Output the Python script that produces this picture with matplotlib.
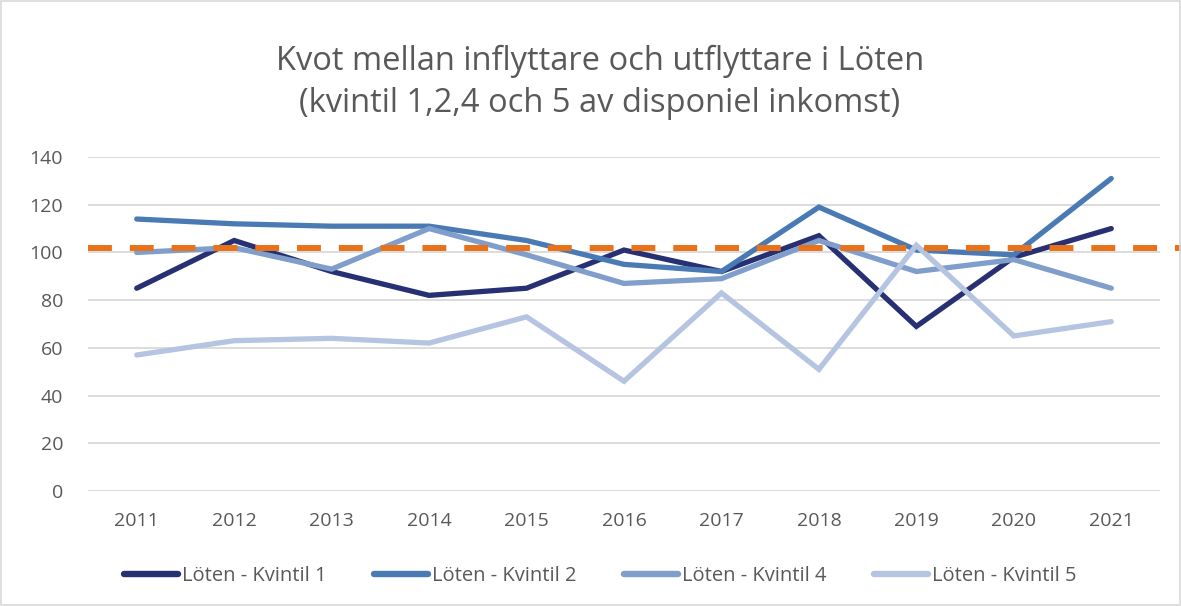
import matplotlib
matplotlib.use("Agg")
import matplotlib.pyplot as plt
from matplotlib.transforms import blended_transform_factory
from matplotlib.patches import Rectangle

years = ["2011", "2012", "2013", "2014", "2015", "2016", "2017", "2018", "2019", "2020", "2021"]
kvintil1 = [85, 105, 92, 82, 85, 101, 92, 107, 69, 98, 110]
kvintil2 = [114, 112, 111, 111, 105, 95, 92, 119, 101, 99, 131]
kvintil4 = [100, 102, 93, 110, 99, 87, 89, 105, 92, 97, 85]
kvintil5 = [57, 63, 64, 62, 73, 46, 83, 51, 103, 65, 71]
reference_level = 101.7
series_names = ["Löten - Kvintil 1", "Löten - Kvintil 2", "Löten - Kvintil 4", "Löten - Kvintil 5"]
yticks = [0, 20, 40, 60, 80, 100, 120, 140]

colors = ["#263072", "#4a7ab4", "#7f9ecb", "#b5c4e0"]
plt.rcParams['font.family'] = ['Open Sans', 'DejaVu Sans']

fig = plt.figure(figsize=(11.81, 6.06), dpi=100)
ax = fig.add_axes([88/1181, (606-491)/606, (1160-88)/1181, (491-157)/606])

x = list(range(len(years)))
for vals, c, name in zip([kvintil1, kvintil2, kvintil4, kvintil5], colors, series_names):
    ax.plot(x, vals, color=c, lw=3.8, solid_capstyle='round', solid_joinstyle='miter', label=name, zorder=3)

ax.set_xlim(-0.5, len(years) - 0.5)
ax.set_ylim(0, 140)
ax.set_yticks(yticks)
ax.set_xticks(x)
ax.set_xticklabels(years)
ax.yaxis.grid(True, color="#d9d9d9", lw=1.3)
ax.set_axisbelow(True)
for s in ax.spines.values():
    s.set_visible(False)
ax.tick_params(axis='both', length=0, labelsize=14, colors="#595959")
ax.tick_params(axis='y', pad=18)
ax.tick_params(axis='x', pad=15)

# orange dashed reference line spanning across the chart area
tr = blended_transform_factory(fig.transFigure, ax.transData)
ax.plot([88/1181, 1.0], [reference_level, reference_level], transform=tr, color="#e8721a",
        lw=4.3, dashes=(4.0, 3.0), clip_on=False, zorder=4)

fig.text(0.508, 1 - 61/606, "Kvot mellan inflyttare och utflyttare i Löten", ha='center', va='center',
         fontsize=23.5, color="#595959")
fig.text(0.508, 1 - 104/606, "(kvintil 1,2,4 och 5 av disponiel inkomst)", ha='center', va='center',
         fontsize=23.5, color="#595959")

leg = fig.legend(loc='center', bbox_to_anchor=(0.508, 1 - 576/606), ncol=4, frameon=False,
                 fontsize=14.5, handlelength=2.7, handletextpad=0.18, columnspacing=2.35)
for t in leg.get_texts():
    t.set_color("#595959")
for h in leg.legend_handles:
    h.set_linewidth(4.6)
    h.set_solid_capstyle('round')

fig.patches.append(Rectangle((0.001, 0.001), 0.998, 0.998, transform=fig.transFigure,
                             fill=False, edgecolor="#d9d9d9", lw=1.2))

fig.savefig("out.png", dpi=100, facecolor="white")
